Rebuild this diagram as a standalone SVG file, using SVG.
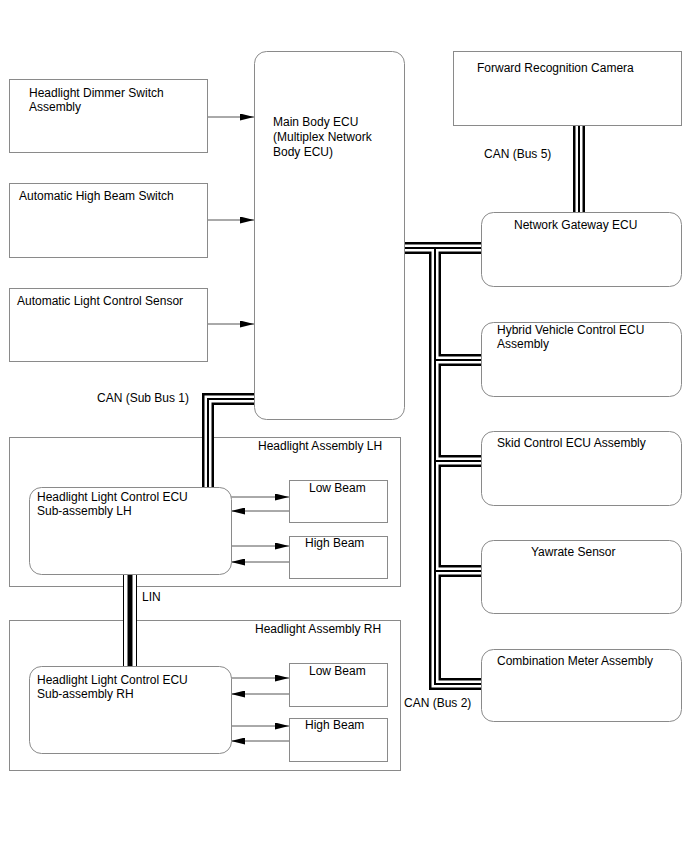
<svg xmlns="http://www.w3.org/2000/svg" width="688" height="852" viewBox="0 0 688 852">
<defs>
<style>
.box{fill:#fff;stroke:#8a8a8a;stroke-width:1}
.cont{fill:none;stroke:#8a8a8a;stroke-width:1}
.t{font-family:"Liberation Sans",Arial,sans-serif;font-size:12px;fill:#000}
.arr{stroke:#555;stroke-width:1;fill:none;marker-end:url(#ah)}
.b1{fill:none;stroke:#000;stroke-width:12;stroke-linejoin:miter}
.b2{fill:none;stroke:#fff;stroke-width:7;stroke-linejoin:miter}
.b3{fill:none;stroke:#000;stroke-width:2;stroke-linejoin:miter}
.l1{fill:none;stroke:#000;stroke-width:14}
.l2{fill:none;stroke:#fff;stroke-width:12}
.l3{fill:none;stroke:#000;stroke-width:5}
</style>
<marker id="ah" viewBox="0 0 14 7" refX="14" refY="3.5" markerWidth="14" markerHeight="7" markerUnits="userSpaceOnUse" orient="auto">
<path d="M0,0 L14,3.5 L0,7 z" fill="#000"/>
</marker>
<path id="busA" d="M404,248 H481 M435,248 V684 H481 M435,360 H481 M435,461 H481 M435,571 H481 M579,125 V212 M254,399 H208 V487"/>
<path id="lin" d="M130,574 V666"/>
</defs>
<rect width="688" height="852" fill="#fff"/>

<g id="headlight-assembly-lh">
<rect class="cont" x="9.5" y="437.5" width="391" height="149"/>
<text class="t" x="258" y="450">Headlight Assembly LH</text>
</g>
<g id="headlight-assembly-rh">
<rect class="cont" x="9.5" y="620.5" width="391" height="150"/>
<text class="t" x="255" y="633">Headlight Assembly RH</text>
</g>

<g id="connectors">
<use href="#busA" class="b1"/>
<use href="#busA" class="b2"/>
<use href="#busA" class="b3"/>
<use href="#lin" class="l1"/>
<use href="#lin" class="l2"/>
<use href="#lin" class="l3"/>
<line class="arr" x1="207" y1="117" x2="254" y2="117"/>
<line class="arr" x1="207" y1="220" x2="254" y2="220"/>
<line class="arr" x1="207" y1="324" x2="254" y2="324"/>
<line class="arr" x1="231" y1="497" x2="289" y2="497"/>
<line class="arr" x1="289" y1="511" x2="231" y2="511"/>
<line class="arr" x1="231" y1="546" x2="289" y2="546"/>
<line class="arr" x1="289" y1="562" x2="231" y2="562"/>
<line class="arr" x1="231" y1="678" x2="289" y2="678"/>
<line class="arr" x1="289" y1="694" x2="231" y2="694"/>
<line class="arr" x1="231" y1="726" x2="289" y2="726"/>
<line class="arr" x1="289" y1="741" x2="231" y2="741"/>
<text class="t" x="484" y="158">CAN (Bus 5)</text>
<text class="t" x="97" y="402">CAN (Sub Bus 1)</text>
<text class="t" x="142" y="601">LIN</text>
<text class="t" x="404" y="707">CAN (Bus 2)</text>
</g>

<g id="headlight-dimmer-switch">
<rect class="box" x="9.5" y="79.5" width="198" height="73"/>
<text class="t" x="29" y="97">Headlight Dimmer Switch</text>
<text class="t" x="29" y="111">Assembly</text>
</g>
<g id="auto-high-beam-switch">
<rect class="box" x="9.5" y="183.5" width="198" height="74"/>
<text class="t" x="19" y="200">Automatic High Beam Switch</text>
</g>
<g id="auto-light-control-sensor">
<rect class="box" x="9.5" y="288.5" width="198" height="73"/>
<text class="t" x="17" y="305">Automatic Light Control Sensor</text>
</g>
<g id="main-body-ecu">
<rect class="box" x="254.5" y="51.5" width="150" height="368" rx="12"/>
<text class="t" x="273" y="126">Main Body ECU</text>
<text class="t" x="273" y="141">(Multiplex Network</text>
<text class="t" x="273" y="156">Body ECU)</text>
</g>
<g id="forward-recognition-camera">
<rect class="box" x="453.5" y="51.5" width="228" height="74"/>
<text class="t" x="477" y="72">Forward Recognition Camera</text>
</g>
<g id="network-gateway-ecu">
<rect class="box" x="481.5" y="212.5" width="200" height="74" rx="12"/>
<text class="t" x="514" y="229">Network Gateway ECU</text>
</g>
<g id="hybrid-vehicle-control-ecu">
<rect class="box" x="481.5" y="322.5" width="200" height="74" rx="12"/>
<text class="t" x="497" y="334">Hybrid Vehicle Control ECU</text>
<text class="t" x="497" y="348">Assembly</text>
</g>
<g id="skid-control-ecu">
<rect class="box" x="481.5" y="431.5" width="200" height="74" rx="12"/>
<text class="t" x="497" y="447">Skid Control ECU Assembly</text>
</g>
<g id="yawrate-sensor">
<rect class="box" x="481.5" y="540.5" width="200" height="73" rx="12"/>
<text class="t" x="531" y="556">Yawrate Sensor</text>
</g>
<g id="combination-meter">
<rect class="box" x="481.5" y="649.5" width="200" height="72" rx="12"/>
<text class="t" x="497" y="665">Combination Meter Assembly</text>
</g>
<g id="headlight-lcu-lh">
<rect class="box" x="29.5" y="487.5" width="202" height="87" rx="12"/>
<text class="t" x="37" y="501">Headlight Light Control ECU</text>
<text class="t" x="37" y="515">Sub-assembly LH</text>
</g>
<g id="low-beam-lh">
<rect class="box" x="289.5" y="480.5" width="98" height="42"/>
<text class="t" x="309" y="492">Low Beam</text>
</g>
<g id="high-beam-lh">
<rect class="box" x="289.5" y="536.5" width="98" height="42"/>
<text class="t" x="305" y="547">High Beam</text>
</g>
<g id="headlight-lcu-rh">
<rect class="box" x="29.5" y="666.5" width="202" height="87" rx="12"/>
<text class="t" x="37" y="684">Headlight Light Control ECU</text>
<text class="t" x="37" y="698">Sub-assembly RH</text>
</g>
<g id="low-beam-rh">
<rect class="box" x="289.5" y="663.5" width="98" height="43"/>
<text class="t" x="309" y="675">Low Beam</text>
</g>
<g id="high-beam-rh">
<rect class="box" x="289.5" y="718.5" width="98" height="43"/>
<text class="t" x="305" y="729">High Beam</text>
</g>
</svg>
